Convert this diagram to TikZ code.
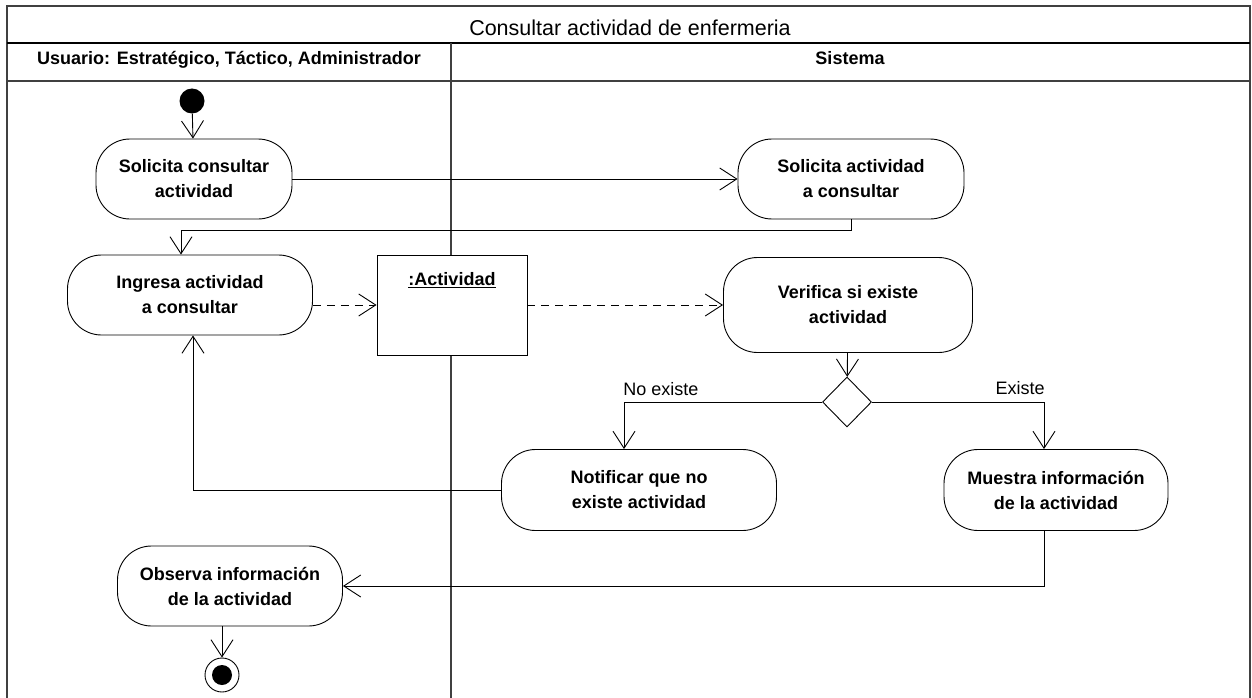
\documentclass[tikz,border=0pt]{standalone}
\usepackage{fontspec}
\setmainfont{Liberation Sans}
\usetikzlibrary{arrows.meta,shapes.geometric}

\begin{document}
\begin{tikzpicture}[x=1pt,y=-1pt]
      \tikzset{
        act/.style={draw,fill=white,line width=0.9pt,rounded corners=34pt,minimum height=80pt,
          inner sep=0pt,align=center,font=\fontsize{18}{25}\selectfont\bfseries},
        flow/.style={line width=0.9pt,-{Straight Barb[length=17pt,width=22pt]}},
        frame/.style={line width=1.5pt,draw=black!75},
        txt/.style={anchor=base,inner sep=0pt}
      }
      \useasboundingbox (0,0) rectangle (1252,698);

      % swimlanes
      \draw[frame] (7,698) -- (7,6) -- (1250,6) -- (1250,698);
      \draw[line width=2.5pt] (7,43) -- (1250,43);
      \draw[frame] (7,81) -- (1250,81);
      \draw[frame] (451,43) -- (451,698);
      \node[txt,font=\fontsize{21.5}{24}\selectfont] (title) at (630,36) {Consultar actividad de enfermeria};
      \node[txt,font=\fontsize{18}{20}\selectfont\bfseries] (usr) at (229,65) {Usuario: Estratégico, Táctico, Administrador};
      \node[txt,font=\fontsize{18}{20}\selectfont\bfseries] (sis) at (850,65) {Sistema};

      \node[circle,fill,inner sep=0pt,minimum size=25pt] (start) at (192,101) {};
      \node[act,minimum width=196pt] (a1) at (194,179) {Solicita consultar\\actividad};
      \node[act,minimum width=226pt] (s1) at (851,179) {Solicita actividad\\a consultar};
      \node[act,minimum width=245pt] (a2) at (190,295) {Ingresa actividad\\a consultar};
      \node[draw,fill=white,line width=0.9pt,minimum width=150pt,minimum height=100pt,
            label={[anchor=north,yshift=-14pt,font=\fontsize{18}{20}\selectfont\bfseries]north:\underline{:Actividad}}] (obj) at (452,305) {};
      \node[act,minimum width=249pt,minimum height=95pt] (s2) at (848,305) {Verifica si existe\\actividad};
      \node[diamond,draw,line width=0.9pt,inner sep=0pt,minimum width=49pt,minimum height=50pt] (dec) at (847,402) {};
      \node[act,minimum width=275pt,minimum height=81pt] (n1) at (639,490) {Notificar que no\\existe actividad};
      \node[act,minimum width=224pt,minimum height=81pt] (m1) at (1056,490) {Muestra información\\de la actividad};
      \node[act,minimum width=225pt] (o1) at (230,586) {Observa información\\de la actividad};
      \node[circle,draw,line width=0.9pt,minimum size=34pt,
            path picture={\fill (path picture bounding box.center) circle (10pt);}] (fin) at (222,675) {};

      \node[txt,font=\fontsize{18}{20}\selectfont] (no) at (661,395) {No existe};
      \node[txt,font=\fontsize{18}{20}\selectfont] (si) at (1020,394) {Existe};

      \draw[flow] (start) -- (a1);
      \draw[flow] (a1) -- (s1);
      \draw[flow] (s1.south) -- ++(0,11) -| ([xshift=-9pt]a2.north);
      \draw[flow,dash pattern=on 8pt off 6pt] (a2.east |- obj) -- (obj);
      \draw[flow,dash pattern=on 8pt off 6pt] (obj) -- (s2);
      \draw[flow] (s2) -- (dec);
      \draw[flow] (dec.west) -| ([xshift=-15pt]n1.north);
      \draw[flow] (dec.east) -| ([xshift=-12pt]m1.north);
      \draw[flow] (n1.west) -| ([xshift=3pt]a2.south);
      \draw[flow] ([xshift=-12pt]m1.south) |- (o1.east);
      \draw[flow] (o1.south -| fin) -- (fin);
\end{tikzpicture}
\end{document}
